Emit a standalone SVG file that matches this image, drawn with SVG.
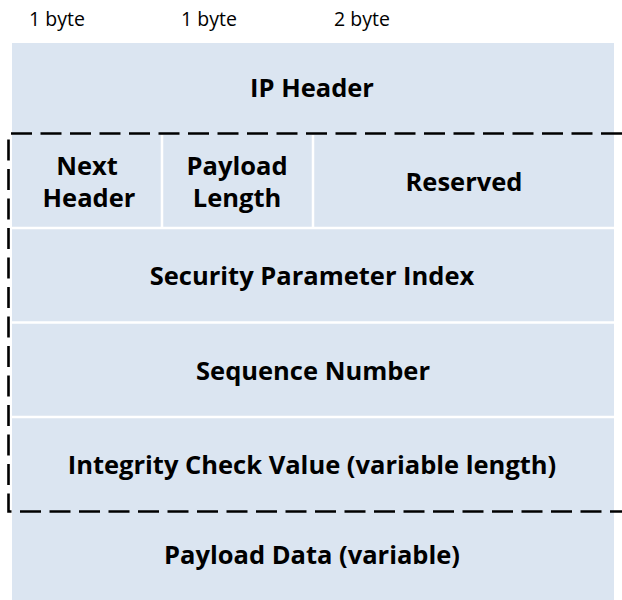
<svg xmlns="http://www.w3.org/2000/svg" width="622" height="600" viewBox="0 0 622 600">
  <style>
    .cell { fill: #dbe5f1; }
    .sep { stroke: #ffffff; stroke-width: 2.5; fill: none; }
    .lbl { font-family: "Open Sans", "Noto Sans", "DejaVu Sans", sans-serif; font-weight: bold; font-size: 25.5px; fill: #000; text-anchor: middle; }
    .size { font-family: "Open Sans", "Noto Sans", "DejaVu Sans", sans-serif; font-size: 19.5px; fill: #000; text-anchor: middle; }
    .bound { stroke: #000; stroke-width: 2.6; fill: none; stroke-dasharray: 21 8.5; }
  </style>
  <rect width="622" height="600" fill="#ffffff"/>

  <!-- field widths -->
  <g id="sizes">
    <text class="size" x="57" y="26">1 byte</text>
    <text class="size" x="209" y="26">1 byte</text>
    <text class="size" x="362" y="26">2 byte</text>
  </g>

  <!-- packet background -->
  <rect class="cell" x="12" y="43" width="602" height="557"/>

  <g id="ip-header">
    <text class="lbl" x="312" y="97">IP Header</text>
  </g>
  <g id="next-header">
    <text class="lbl" x="87" y="175">Next</text>
    <text class="lbl" x="89" y="207">Header</text>
  </g>
  <g id="payload-length">
    <text class="lbl" x="237" y="175">Payload</text>
    <text class="lbl" x="237" y="207">Length</text>
  </g>
  <g id="reserved">
    <text class="lbl" x="464" y="190.5">Reserved</text>
  </g>
  <g id="spi">
    <text class="lbl" x="312" y="285">Security Parameter Index</text>
  </g>
  <g id="sequence-number">
    <text class="lbl" x="313" y="379.5">Sequence Number</text>
  </g>
  <g id="icv">
    <text class="lbl" x="312" y="473.5">Integrity Check Value (variable length)</text>
  </g>
  <g id="payload-data">
    <text class="lbl" x="312" y="564">Payload Data (variable)</text>
  </g>

  <!-- field separators -->
  <g id="separators">
    <line class="sep" x1="162" y1="135" x2="162" y2="228"/>
    <line class="sep" x1="313" y1="135" x2="313" y2="228"/>
    <line class="sep" x1="12" y1="228" x2="614" y2="228"/>
    <line class="sep" x1="12" y1="322.5" x2="614" y2="322.5"/>
    <line class="sep" x1="12" y1="417" x2="614" y2="417"/>
  </g>

  <!-- ESP header boundary -->
  <g id="connectors">
    <path class="bound" d="M 622 133.5 L 8.5 133.5 L 8.5 511.5 L 622 511.5"/>
  </g>
</svg>
